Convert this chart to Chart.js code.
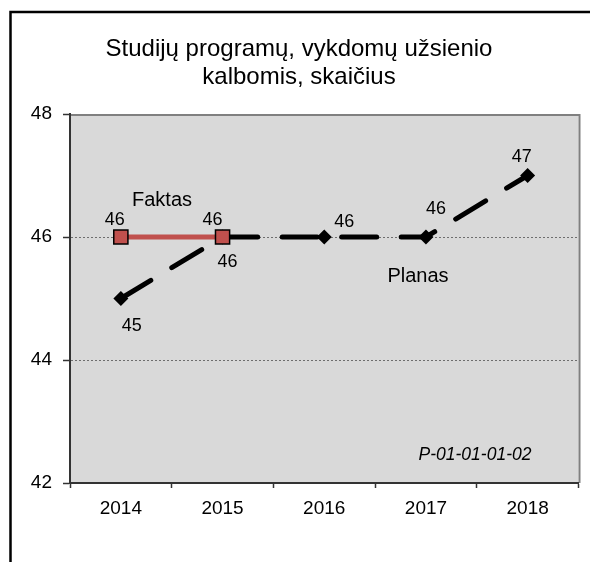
<!DOCTYPE html>
<html lang="lt">
<head>
    <meta charset="UTF-8">
    <title>Studijų programų, vykdomų užsienio kalbomis, skaičius</title>
    <style>
        html, body { margin: 0; padding: 0; background: #fff; overflow: hidden; }
        canvas { display: block; }
    </style>
</head>
<body>
    <canvas id="myChart" width="590" height="562"></canvas>

    <script src="https://cdn.jsdelivr.net/npm/chart.js@4/dist/chart.umd.min.js"></script>
    <script>
    // data
    var years = ['2014', '2015', '2016', '2017', '2018'];
    var faktas = [46, 46, null, null, null];
    var planas = [45, 46, 46, 46, 47];
    var yTicks = [42, 44, 46, 48];

    var titleLines = ['Studijų programų, vykdomų užsienio', 'kalbomis, skaičius'];

    // where each value label sits relative to its point (px)
    var faktasLabelOffset = [[-6, -17], [-10, -17]];
    var planasLabelOffset = [[11, 28], [5, 25], [20, -15], [10, -28], [-6, -18]];

    var FONT = '"Liberation Sans", Arial, sans-serif';

    var framePlugin = {
        id: 'frame',
        beforeDraw: (chart) => {
            const c = chart.ctx, a = chart.chartArea;
            c.save();
            c.fillStyle = '#fff';
            c.fillRect(0, 0, chart.width, chart.height);
            // outer box, only top and left edges fall inside the picture
            c.strokeStyle = '#000';
            c.lineWidth = 2.5;
            c.beginPath();
            c.moveTo(10.5, chart.height + 5);
            c.lineTo(10.5, 12);
            c.lineTo(chart.width + 5, 12);
            c.stroke();
            // plot area
            c.fillStyle = '#d9d9d9';
            c.fillRect(a.left, a.top, a.right - a.left, a.bottom - a.top);
            c.strokeStyle = '#808080';
            c.lineWidth = 2;
            c.beginPath();
            c.moveTo(a.left, a.top + 1);
            c.lineTo(a.right + 1, a.top + 1);
            c.lineTo(a.right + 1, a.bottom);
            c.stroke();
            c.restore();
        }
    };

    var textPlugin = {
        id: 'texts',
        afterDatasetsDraw: (chart) => {
            const c = chart.ctx;
            c.save();
            c.fillStyle = '#000';
            c.textAlign = 'center';
            c.textBaseline = 'middle';

            c.font = '24px ' + FONT;
            c.fillText(titleLines[0], 299, 49);
            c.fillText(titleLines[1], 299, 77);

            c.font = '18px ' + FONT;
            [[0, faktas, faktasLabelOffset], [1, planas, planasLabelOffset]].forEach(([di, vals, offs]) => {
                chart.getDatasetMeta(di).data.forEach((pt, i) => {
                    if (vals[i] == null || !offs[i]) return;
                    c.fillText(String(vals[i]), pt.x + offs[i][0], pt.y + offs[i][1]);
                });
            });

            c.font = '20px ' + FONT;
            c.fillText('Faktas', 162, 200);
            c.fillText('Planas', 418, 276);

            c.font = 'italic 17.5px ' + FONT;
            c.fillText('P-01-01-01-02', 475, 455);
            c.restore();
        }
    };

    var ctx = document.getElementById('myChart');
    var myChart = new Chart(ctx, {
        type: 'line',
        data: {
            labels: years,
            datasets: [
                {
                    label: 'Faktas',
                    data: faktas,
                    borderColor: '#c0504d',
                    backgroundColor: '#c0504d',
                    borderWidth: 5,
                    pointStyle: 'rect',
                    pointRadius: 10,
                    pointBorderColor: '#000',
                    pointBackgroundColor: '#c0504d',
                    pointBorderWidth: 1.5,
                    spanGaps: false
                },
                {
                    label: 'Planas',
                    data: planas,
                    borderColor: '#000',
                    backgroundColor: '#000',
                    borderWidth: 5,
                    borderDash: [35, 24.5],
                    borderCapStyle: 'round',
                    pointStyle: 'rectRot',
                    pointRadius: 7.5,
                    pointBorderWidth: 0,
                    pointBackgroundColor: '#000'
                }
            ]
        },
        options: {
            responsive: false,
            animation: false,
            layout: { padding: { left: 10, right: 8, top: 114, bottom: 39 } },
            plugins: {
                legend: { display: false },
                title: { display: false },
                tooltip: { enabled: false }
            },
            scales: {
                x: {
                    offset: true,
                    afterFit: (s) => { s.height = 40; },
                    grid: {
                        offset: true,
                        drawOnChartArea: false,
                        tickLength: 5,
                        tickColor: '#333',
                        tickWidth: 1.5
                    },
                    border: { color: '#333', width: 2 },
                    ticks: {
                        color: '#000',
                        padding: 9,
                        maxRotation: 0,
                        font: { family: FONT, size: 19 }
                    }
                },
                y: {
                    min: 42,
                    max: 48,
                    afterFit: (s) => { s.width = 60; },
                    afterBuildTicks: (s) => { s.ticks = yTicks.map(v => ({ value: v })); },
                    grid: {
                        color: (c) => (c.tick && (c.tick.value === 44 || c.tick.value === 46)) ? '#6e6e6e' : 'rgba(0,0,0,0)',
                        lineWidth: 1,
                        tickLength: 7,
                        tickColor: '#333',
                        tickWidth: 1.5
                    },
                    border: { color: '#333', width: 2, dash: [2, 2] },
                    ticks: {
                        color: '#000',
                        padding: 11,
                        font: { family: FONT, size: 19 }
                    }
                }
            }
        },
        plugins: [framePlugin, textPlugin]
    });
    </script>
</body>
</html>
